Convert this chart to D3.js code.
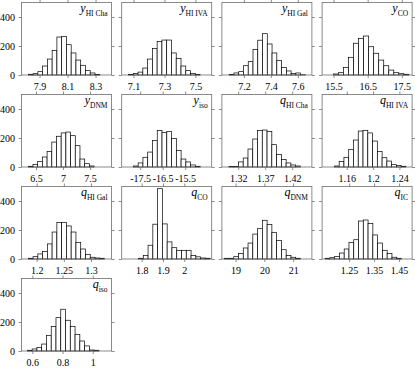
<!DOCTYPE html>
<html><head><meta charset="utf-8">
<script src="https://cdn.jsdelivr.net/npm/d3@7"></script>
<style>
body{margin:0;background:#fff}
svg{display:block}
text{font-family:"Liberation Serif","Times New Roman",serif;fill:#000}
</style>
</head><body><svg id="c" width="415" height="369"></svg>
<script>
const symbols = ["y","y","y","y","y","y","q","q","q","q","q","q","q"];
const subscripts = ["HI Cha","HI IVA","HI Gal","CO","DNM","iso","HI Cha","HI IVA","HI Gal","CO","DNM","IC","iso"];
const xDomains = [[7.771,8.414],[7.024,7.605],[7.037,7.704],[15.167,17.80],[6.231,7.898],[-18.32,-14.32],[1.2898,1.4565],[1.1225,1.2593],[1.172,1.3378],[1.706,2.129],[18.524,21.65],[1.142,1.502],[0.528,1.1245]];
const xTicks = [[7.9,8.1,8.3],[7.1,7.3,7.5],[7.2,7.4,7.6],[15.5,16.5,17.5],[6.5,7,7.5],[-17.5,-16.5,-15.5],[1.32,1.37,1.42],[1.16,1.2,1.24],[1.2,1.25,1.3],[1.8,1.9,2],[19,20,21],[1.25,1.35,1.45],[0.6,0.8,1]];
const xTickLabels = [["7.9","8.1","8.3"],["7.1","7.3","7.5"],["7.2","7.4","7.6"],["15.5","16.5","17.5"],["6.5","7","7.5"],["-17.5","-16.5","-15.5"],["1.32","1.37","1.42"],["1.16","1.2","1.24"],["1.2","1.25","1.3"],["1.8","1.9","2"],["19","20","21"],["1.25","1.35","1.45"],["0.6","0.8","1"]];
const binStarts = [7.82,7.068,7.091,15.5,6.357,-17.80,1.3028,1.1412,1.1845,1.785,18.604,1.154,0.567];
const binWidths = [0.034,0.0308,0.0353,0.147,0.087,0.212,0.00883,0.00725,0.00878,0.02245,0.1656,0.0191,0.0316];
const counts = [
  [5,9,23,62,110,168,262,265,209,152,103,67,30,14,3],
  [4,11,20,48,110,182,232,241,241,152,115,62,30,11,4],
  [4,14,23,64,92,175,240,285,214,152,99,51,28,10,14,2],
  [7,16,51,122,219,253,269,195,150,103,64,34,16,9,5],
  [5,18,37,69,106,172,212,235,241,216,147,55,23,7],
  [7,28,67,103,182,251,239,244,196,113,55,35,14,5],
  [3,4,35,62,124,193,251,255,246,154,87,51,28,14,7],
  [7,37,67,120,186,248,253,235,179,106,64,41,16,11,5],
  [5,16,35,51,104,186,251,253,228,186,115,69,32,12,7,5],
  [5,25,95,240,485,242,118,78,60,60,60,25,15,7,5],
  [5,5,16,37,76,110,172,209,267,237,184,127,64,25,12,5],
  [5,9,18,41,69,115,133,262,269,244,166,110,60,37,12,5],
  [5,14,25,48,108,168,230,288,212,168,115,69,35,7,5]
];
const yTicks = [0,200,400];
const yMax = 500;

const svg = d3.select("#c");
const W = 90, H = 72.5;
const colStep = 100.2, rowStep = 92, left0 = 21.5, top0 = 2.5;
const boxColor = "#6e6e6e";

counts.forEach((cs, p) => {
  const col = p % 4, row = Math.floor(p / 4);
  const g = svg.append("g").attr("transform", `translate(${left0 + col*colStep},${top0 + row*rowStep})`);
  const x = d3.scaleLinear().domain(xDomains[p]).range([0, W]);
  const y = d3.scaleLinear().domain([0, yMax]).range([H, 0]);

  g.selectAll("rect.bar").data(cs).join("rect").attr("class","bar")
    .attr("x", (d,i) => x(binStarts[p] + i*binWidths[p]))
    .attr("width", (d,i) => x(binStarts[p] + (i+1)*binWidths[p]) - x(binStarts[p] + i*binWidths[p]))
    .attr("y", d => y(d))
    .attr("height", d => H - y(d))
    .attr("fill", "#fff").attr("stroke", "#000").attr("stroke-width", 0.7);

  const labs = xTickLabels[p];
  const ax = (sel) => { sel.select(".domain").remove(); sel.selectAll(".tick line").attr("stroke", boxColor).attr("stroke-width", 0.8); sel.selectAll("text").style("font-size","10px").style("font-family", '"Liberation Serif",serif'); };
  g.append("g").attr("transform", `translate(0,${H})`)
    .call(d3.axisBottom(x).tickValues(xTicks[p]).tickFormat((d,i) => labs[i]).tickSize(3).tickPadding(4.5)).call(ax);
  g.append("g")
    .call(d3.axisTop(x).tickValues(xTicks[p]).tickFormat("").tickSize(3)).call(ax);
  g.append("g")
    .call(d3.axisLeft(y).tickValues(yTicks).tickFormat(col === 0 ? d3.format("d") : () => "").tickSize(3).tickPadding(3.5)).call(ax);
  g.append("g").attr("transform", `translate(${W},0)`)
    .call(d3.axisRight(y).tickValues(yTicks).tickFormat("").tickSize(3)).call(ax);

  g.append("rect").attr("x",0).attr("y",0).attr("width",W).attr("height",H)
    .attr("fill","none").attr("stroke",boxColor).attr("stroke-width",0.8);

  const t = g.append("text").attr("x", W - 4).attr("y", 9).attr("text-anchor","end");
  t.append("tspan").text(symbols[p]).style("font-style","italic").style("font-size","12px");
  t.append("tspan").text(subscripts[p]).attr("dy", 4).style("font-size","7.5px");
});
</script>
</body></html>
